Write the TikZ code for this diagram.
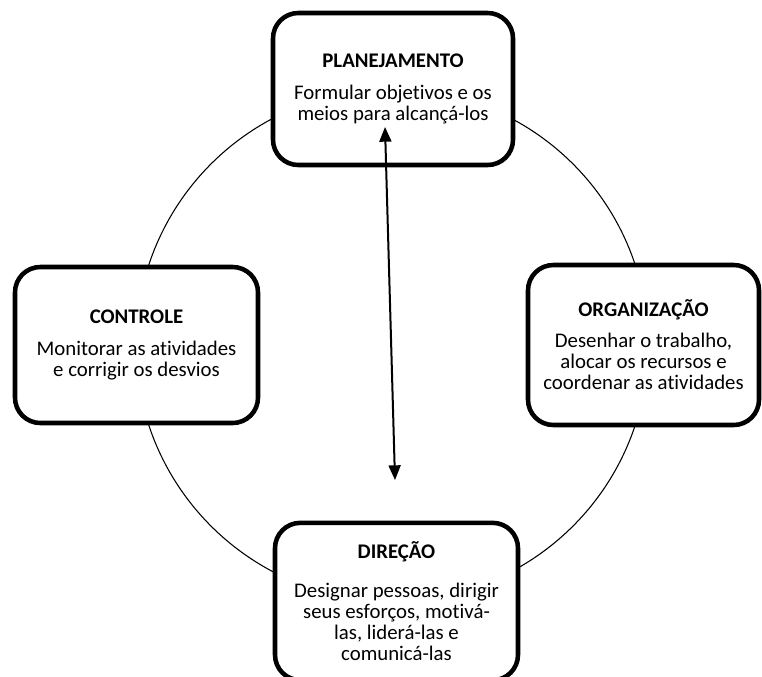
\documentclass[tikz,border=0pt]{standalone}
\usepackage{fontspec}
\setmainfont{Carlito}[Ligatures={NoCommon}]
\usetikzlibrary{arrows.meta}
\tikzset{
  box/.style={draw, fill=white, line width=3.4pt, rounded corners=19pt, inner sep=0pt,
    align=center, font=\fontsize{15.6}{15.9}\selectfont},
  ring/.style={draw, circle, line width=0.8pt, inner sep=0pt},
  link/.style={line width=1.5pt, {Triangle[length=11pt,width=9pt]}-{Triangle[length=11pt,width=9pt]}}
}
\begin{document}
\begin{tikzpicture}[x=0.75pt,y=-0.75pt]
\useasboundingbox (0,0) rectangle (762,676);
\node[ring, minimum size=384pt] (cyc) at (392,345) {};
\node[box, minimum width=180pt, minimum height=114pt] (plan) at (393,89)
  {\textbf{PLANEJAMENTO}\\[8pt]Formular objetivos e os\\meios para alcançá-los};
\node[box, minimum width=182.25pt, minimum height=117pt] (ctrl) at (136.5,345)
  {\textbf{CONTROLE}\\[8pt]Monitorar as atividades\\e corrigir os desvios};
\node[box, minimum width=173.25pt, minimum height=120pt] (org) at (643.5,345)
  {\textbf{ORGANIZAÇÃO}\\[7pt]Desenhar o trabalho,\\alocar os recursos e\\coordenar as atividades};
\node[box, minimum width=182.25pt, minimum height=118pt] (dir) at (396.5,601.5)
  {\textbf{DIREÇÃO}\\[13pt]Designar pessoas, dirigir\\seus esforços, motivá-\\las, liderá-las e\\comunicá-las};
\coordinate (atop) at (385,127);
\coordinate (abot) at (395,480);
\draw[link] (atop) -- (abot);
\end{tikzpicture}
\end{document}
